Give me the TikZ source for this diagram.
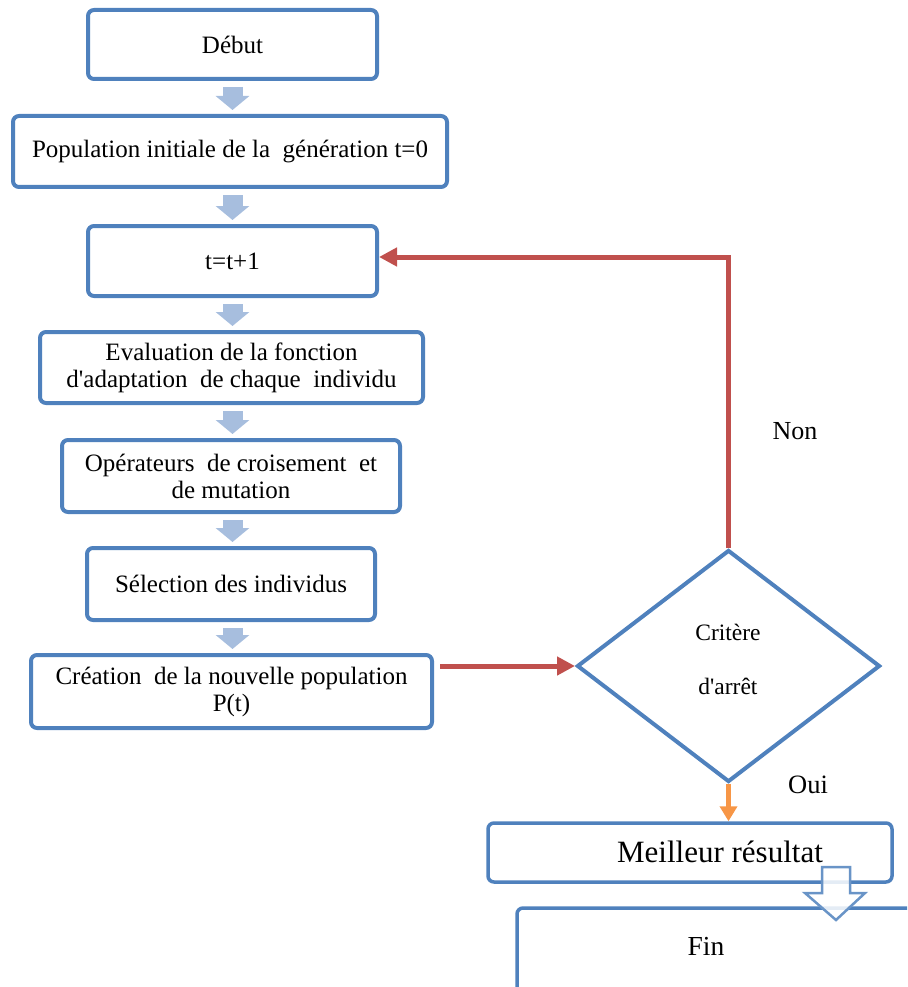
\documentclass[tikz,border=0pt]{standalone}
\usepackage{fontspec}
\setmainfont{Liberation Serif}
\usetikzlibrary{arrows.meta,shapes.geometric}
\definecolor{boxblue}{HTML}{4F81BD}
\definecolor{flowblue}{HTML}{A7BEDE}
\definecolor{loopred}{HTML}{C0504D}
\definecolor{yesorange}{HTML}{F79646}

\begin{document}
\begin{tikzpicture}[x=1pt,y=-1pt,
  stepbox/.style={draw=boxblue, line width=4pt, rounded corners=6pt, fill=white,
    align=center, inner sep=0pt, font=\fontsize{25}{27}\selectfont},
  endbox/.style={draw=boxblue, line width=3.5pt, rounded corners=6pt, fill=white, inner sep=0pt},
  flow/.style={draw=flowblue, line width=20pt, -{Triangle[length=14pt,width=33pt]},
    shorten <=6pt, shorten >=4pt},
  loopback/.style={draw=loopred, line width=5pt, -{Triangle[length=18pt,width=18pt]}},
  yesflow/.style={draw=yesorange, line width=5pt, -{Triangle[length=15pt,width=17pt]}},
  plain/.style={inner sep=0pt},
]
\useasboundingbox (0,0) rectangle (907,987);
\clip (0,0) rectangle (907,987);

% main chain of steps
\node[stepbox, minimum width=289pt, minimum height=69pt] (b1) at (232.5,44.5) {Début};
\node[stepbox, minimum width=434pt, minimum height=71pt] (b2) at (230,151.5) {Population initiale de la~~génération t=0};
\node[stepbox, minimum width=289pt, minimum height=70pt] (b3) at (232.5,261) {t=t+1};
\node[stepbox, minimum width=383pt, minimum height=71pt] (b4) at (231.5,367.5) {Evaluation de la fonction\\d\textquotesingle adaptation~ de chaque~ individu};
\node[stepbox, minimum width=338pt, minimum height=72pt] (b5) at (231,476) {Opérateurs~ de croisement~ et\\de mutation};
\node[stepbox, minimum width=288pt, minimum height=72pt] (b6) at (231,584) {Sélection des individus};
\node[stepbox, minimum width=401pt, minimum height=73pt] (b7) at (231.5,691.5) {Création~ de la nouvelle population\\P(t)};

% block arrows between the steps
\draw[flow] (b1.south) -- (b1.south |- b2.north);
\draw[flow] (b3.north |- b2.south) -- (b3.north);
\draw[flow] (b3.south) -- (b3.south |- b4.north);
\draw[flow] (b3.south |- b4.south) -- (b3.south |- b5.north);
\draw[flow] (b3.south |- b5.south) -- (b3.south |- b6.north);
\draw[flow] (b3.south |- b6.south) -- (b3.south |- b7.north);

% stopping test
\node[diamond, draw=boxblue, line width=4pt, minimum width=303pt, minimum height=232pt,
  aspect=1.306, inner sep=0pt] (dia) at (728.5,666) {};
\node[plain, font=\fontsize{23.5}{26}\selectfont] (crit1) at (728,632) {Critère};
\node[plain, font=\fontsize{23.5}{26}\selectfont] (crit2) at (728,686) {d\textquotesingle arrêt};

\draw[loopback] ([xshift=6pt]b7.east |- dia.west) -- (dia.west);
\draw[loopback] (dia.north) |- ([yshift=4pt]b3.east);
\node[plain, font=\fontsize{26}{30}\selectfont] (non) at (795,431) {Non};

% end of the algorithm
\node[endbox, minimum width=413pt, minimum height=92pt] (fin) at (723.5,954) {};
\node[plain, font=\fontsize{27.5}{32}\selectfont] (fintext) at (706,946) {Fin};
\node[endbox, minimum width=404pt, minimum height=59pt] (b8) at (690,852.5) {};
\node[plain, font=\fontsize{31}{34}\selectfont] (b8text) at (720,852) {Meilleur résultat};

\draw[yesflow] (dia.south) -- (dia.south |- b8.north);
\node[plain, font=\fontsize{26.5}{30}\selectfont] (oui) at (808,785) {Oui};

% hollow arrow from the best result to the end box
\coordinate (dn) at (836,867);
\draw[draw=boxblue!85, fill=white, fill opacity=0.85, line width=2.5pt, line join=miter]
  (dn) ++(-14,0) -- ++(28,0) -- ++(0,26) -- ++(15,0) -- ++(-29,27) -- ++(-31,-27) -- ++(17,0) -- cycle;
\end{tikzpicture}
\end{document}
